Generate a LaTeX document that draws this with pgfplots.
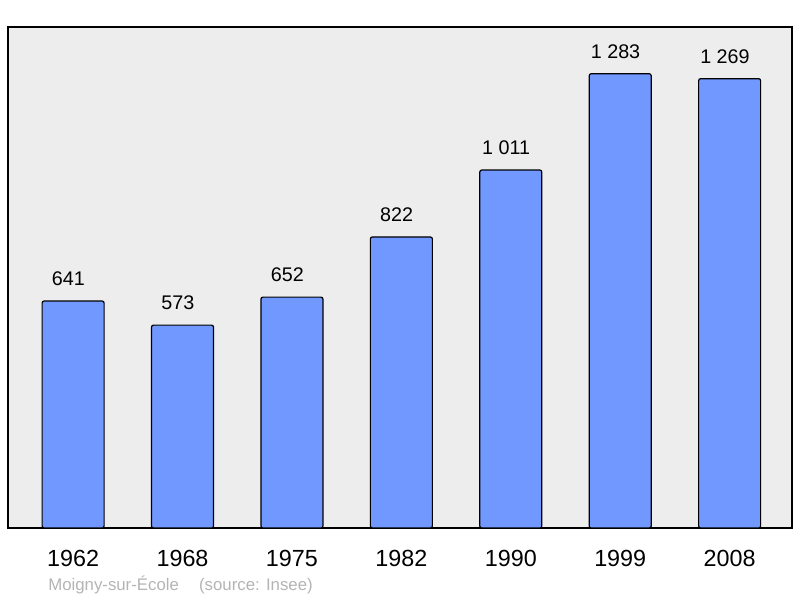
\documentclass[border=0pt]{standalone}
\usepackage{fontspec}
\setmainfont{Liberation Sans}
\usepackage{pgfplots}
\pgfplotsset{compat=1.18}
\definecolor{barblue}{HTML}{7098FF}
\definecolor{bggray}{HTML}{EDEDED}
\definecolor{srcgray}{HTML}{B4B4B4}
\begin{document}
\begin{tikzpicture}
\begin{axis}[
    scale only axis,
    width=588pt, height=375.75pt,
    xmin=-0.595, xmax=6.57,
    ymin=0, ymax=1415,
    axis background/.style={fill=bggray},
    axis line style={line width=1.5pt},
    xtick=data,
    xticklabels={1962,1968,1975,1982,1990,1999,2008},
    ytick=\empty,
    major tick length=0pt,
    xticklabel style={font=\fontsize{17.5pt}{20pt}\selectfont, yshift=-13pt},
    ybar, bar width=46.5pt,
    /pgf/number format/assume math mode=true,
    nodes near coords={\pgfmathprintnumber[1000 sep={\ }]{\pgfplotspointmeta}},
    every node near coord/.append style={font=\fontsize{14.8pt}{17pt}\selectfont, inner sep=0pt, yshift=11pt, xshift=-3.5pt},
    clip=false,
]
\addplot[fill=barblue, draw=black, line width=0.9pt, rounded corners=1.5pt]
    coordinates {(0,641)(1,573)(2,652)(3,822)(4,1011)(5,1283)(6,1269)};
\end{axis}
\useasboundingbox (-6pt,-52.5pt) rectangle (594pt,396pt);
\node[anchor=base west, text=srcgray, font=\fontsize{12.6pt}{14pt}\selectfont, inner sep=0pt]
    at (30pt,-47pt) {Moigny-sur-École\hspace{1.2em}(source: Insee)};
\end{tikzpicture}
\end{document}
